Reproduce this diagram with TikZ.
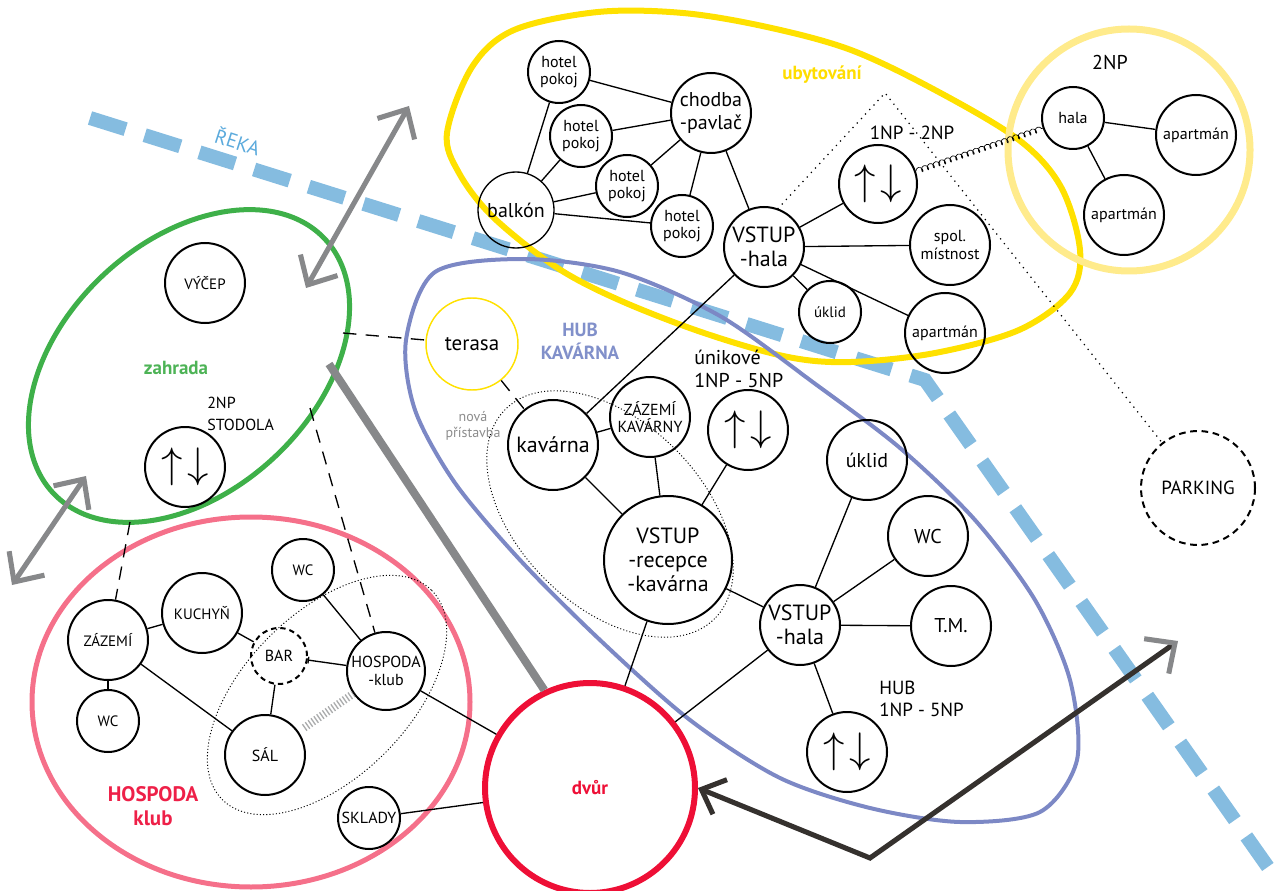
\documentclass[tikz,border=0pt]{standalone}
\usepackage{fontspec}
\setmainfont{PT Sans}
\usetikzlibrary{arrows.meta,decorations.pathmorphing,calc}
\definecolor{yel}{HTML}{FFE100}
\definecolor{lyel}{HTML}{FFEB8C}
\definecolor{grn}{HTML}{3EB049}
\definecolor{hub}{HTML}{7C88C5}
\definecolor{rivc}{HTML}{85BCE0}
\definecolor{rtext}{HTML}{5BAADC}
\definecolor{pk}{HTML}{F5708A}
\definecolor{redc}{HTML}{EE0F36}
\definecolor{garr}{HTML}{87888A}
\definecolor{darkc}{HTML}{35312E}
\definecolor{hubtxt}{HTML}{8190CA}
\definecolor{hosptxt}{HTML}{EE2048}
\definecolor{ubytxt}{HTML}{FFDD00}
\definecolor{ztxt}{HTML}{4DB356}
\newcommand\updn{\scalebox{3.2}{$\uparrow\mkern2mu\downarrow$}}
\tikzset{
  nd/.style={circle, draw=black, line width=1.5pt, inner sep=0pt, minimum size=#1*1.5pt, align=center},
  f14/.style={font=\fontsize{10.5pt}{11.5pt}\selectfont},
  f15/.style={font=\fontsize{11.25pt}{12.5pt}\selectfont},
  f16/.style={font=\fontsize{12pt}{13pt}\selectfont},
  f19/.style={font=\fontsize{14.25pt}{16.5pt}\selectfont},
  f20/.style={font=\fontsize{15pt}{17pt}\selectfont},
  f21/.style={font=\fontsize{15.75pt}{17.5pt}\selectfont},
  f22/.style={font=\fontsize{16.5pt}{18pt}\selectfont},
  bf19/.style={font=\fontsize{14.25pt}{17pt}\selectfont\bfseries},
  bf21/.style={font=\fontsize{15.75pt}{18pt}\selectfont\bfseries},
  ed/.style={line width=1pt},
  dsh/.style={line width=1pt, dash pattern=on 10pt off 7pt},
  dotl/.style={line width=1.3pt, dash pattern=on 0pt off 4.6pt, line cap=round},
  fdot/.style={line width=0.7pt, dash pattern=on 0.8pt off 1.6pt},
  lab/.style={inner sep=0pt, align=left},
  garrow/.style={draw=garr, line width=3.8pt, {Straight Barb[length=17pt,width=32pt]}-{Straight Barb[length=17pt,width=32pt]}},
}
\begin{document}
\begin{tikzpicture}[x=0.75pt,y=-0.75pt]
\useasboundingbox (0,0) rectangle (1274,891);
% river
\draw[rivc, line width=10.5pt, dash pattern=on 28pt off 15pt] (90,118) -- (925,380) -- (1270,870);
\node[rtext, f20, rotate=-18] (reka) at (238,141) {ŘEKA};
% zones
\draw[yel, line width=4.5pt] plot[smooth cycle, tension=0.55] coordinates {(447,133) (472,67) (514,30) (598,12) (683,13) (767,27) (851,50) (935,90) (1019,140) (1061,187) (1080,250) (1070,293) (1019,330) (935,353) (851,362) (788,357) (704,333) (619,300) (556,267) (493,217) (459,173)};
\draw[hub, line width=3pt] plot[smooth cycle, tension=0.5] coordinates {(435,272) (524,259) (620,272) (720,316) (814,383) (900,448) (975,520) (1035,600) (1070,680) (1077,760) (1040,812) (960,822) (870,808) (780,778) (690,720) (600,640) (520,560) (455,483) (415,410) (406,340)};
\draw[grn, line width=3.75pt, rotate around={43:(189,366)}] (189,366) ellipse [x radius=186, y radius=125];
\draw[pk, line width=3.75pt] (251,702) ellipse [x radius=219, y radius=185];
\draw[lyel, line width=5.25pt] (1129,150) circle [radius=121];
\draw[fdot, rotate around={45:(327,695)}] (327,695) ellipse [x radius=148, y radius=82];
\draw[fdot, rotate around={-45:(610,514)}] (610,514) ellipse [x radius=148, y radius=92];
% zone labels
\node[ubytxt, bf19] (lubyt) at (822,75) {ubytování};
\node[f20] (l2np) at (1110,62) {2NP};
\node[f19] (l12) at (912,133) {1NP - 2NP};
\node[hubtxt, bf19, align=center] (lhub) at (580,341) {HUB\\KAVÁRNA};
\node[lab, f20, anchor=west] (luni) at (694,369) {únikové\\1NP - 5NP};
\node[lab, f19, anchor=west] (lhub2) at (879,699) {HUB\\1NP - 5NP};
\node[black!45, f14, align=center] (lnova) at (473,426) {nová\\přístavba};
\node[ztxt, bf19] (lzah) at (176,368) {zahrada};
\node[lab, font=\fontsize{12pt}{17pt}\selectfont, anchor=west] (lstod) at (207,414) {2NP\\STODOLA};
\node[hosptxt, bf21, align=center] (lhosp) at (153,806) {HOSPODA\\klub};
% ubytovani nodes
\node[nd=31,f16] (h1) at (559,72) {hotel\\pokoj};
\node[nd=31,f16] (h2) at (581,136) {hotel\\pokoj};
\node[nd=31,f16] (h3) at (627,186) {hotel\\pokoj};
\node[nd=31,f16] (h4) at (682,226) {hotel\\pokoj};
\node[nd=38,line width=1pt,f20] (bal) at (516,210) {balkón};
\node[nd=40,f20] (cho) at (711,113) {chodba\\-pavlač};
\node[nd=40,f22] (vh1) at (764,247) {VSTUP\\-hala};
\node[nd=31,f15] (uk1) at (830,312) {úklid};
\node[nd=39] (st1) at (878,184) {\updn};
\node[nd=40,f16] (spol) at (950,245) {spol.\\místnost};
\node[nd=40,f16] (ap1) at (945,333) {apartmán};
\node[nd=31,f16] (hala2) at (1073,118) {hala};
\node[nd=40,f16] (ap2) at (1196,135) {apartmán};
\node[nd=40,f16] (ap3) at (1124,215) {apartmán};
% hub nodes
\node[nd=46, draw=yel, line width=1.1pt, f21] (ter) at (472,344) {terasa};
\node[nd=45,f22] (kav) at (553,445) {kavárna};
\node[nd=40,f16] (zk) at (650,417) {ZÁZEMÍ\\KAVÁRNY};
\node[nd=40] (st2) at (748,430) {\updn};
\node[nd=64,f22] (vr) at (668,560) {VSTUP\\-recepce\\-kavárna};
\node[nd=40,f20] (uk2) at (867,460) {úklid};
\node[nd=40,f20] (wc3) at (928,536) {WC};
\node[nd=40,f20] (tm) at (951,626) {T.M.};
\node[nd=40,f22] (vh2) at (800,625) {VSTUP\\-hala};
\node[nd=40] (st3) at (847,752) {\updn};
\node[nd=57, dash pattern=on 5pt off 3.5pt, f19] (park) at (1198,488) {PARKING};
% left nodes
\node[nd=40,f15] (vyc) at (205,283) {VÝČEP};
\node[nd=40] (st4) at (185,467) {\updn};
\node[nd=40,f15] (zaz) at (108,640) {ZÁZEMÍ};
\node[nd=31,f15] (wc1) at (108,721) {WC};
\node[nd=40,f15] (kuch) at (202,613) {KUCHYŇ};
\node[nd=31,f15] (wc2) at (303,570) {WC};
\node[nd=28, dash pattern=on 4pt off 3pt, f16] (bar) at (279,656) {BAR};
\node[nd=39,f16] (hosp) at (386,671) {HOSPODA\\-klub};
\node[nd=40,f16] (sal) at (265,755) {SÁL};
\node[nd=31,f16] (skl) at (369,818) {SKLADY};
\node[nd=105, draw=redc, line width=4.5pt, text=redc, bf19] (dvur) at (590,788) {dvůr};
% coordinates
\coordinate (g1) at (343,333);
\coordinate (g2) at (310,408);
\coordinate (g3) at (130,522);
\coordinate (gs) at (329,364);
\coordinate (apex) at (885,93);
\coordinate (ga1) at (306,288);
\coordinate (ga2) at (409,106);
\coordinate (ga3) at (12,585);
\coordinate (ga4) at (86,476);
\coordinate (corner) at (870,858);
\coordinate (dtip) at (1178,641);
% edges
\foreach \a/\b in {h1/cho,h2/cho,h3/cho,h4/cho,cho/vh1,bal/h1,bal/h2,bal/h3,bal/h4,vh1/st1,vh1/spol,vh1/uk1,vh1/ap1,vh1/kav,hala2/ap2,hala2/ap3,
  kav/zk,kav/vr,zk/vr,st2/vr,vr/vh2,vr/dvur,vh2/uk2,vh2/wc3,vh2/tm,vh2/st3,vh2/dvur,
  zaz/kuch,zaz/wc1,zaz/sal,kuch/bar,bar/sal,wc2/hosp,hosp/dvur,skl/dvur}
  \draw[ed] (\a) -- (\b);
\draw[ed, {Bar[width=5pt]}-] (bar) -- (hosp);
\draw[line width=0.5pt, decorate, decoration={coil, aspect=0.7, segment length=4.5pt, amplitude=2pt}] (st1) -- (hala2);
\draw[garr!70, line width=6pt, dash pattern=on 1pt off 1.6pt, shorten <=5pt] (sal) -- (hosp);
% dashed
\draw[dsh] (g1) -- (ter);
\draw[dsh] (ter) -- (kav);
\draw[dsh] (g2) -- (hosp);
\draw[dsh] (g3) -- (zaz);
% dotted
\draw[dotl] (vh1.70) -- (apex) -- (park);
% gray lines and arrows
\draw[garr, line width=6pt] (gs) -- (dvur.115);
\draw[garrow] (ga1) -- (ga2);
\draw[garrow] (ga3) -- (ga4);
\draw[darkc, line width=3.8pt, line join=miter, {Straight Barb[length=15pt,width=28pt]}-{Straight Barb[length=17pt,width=32pt,color=garr]}] (dvur.east) -- (corner) -- (dtip);
\end{tikzpicture}
\end{document}
